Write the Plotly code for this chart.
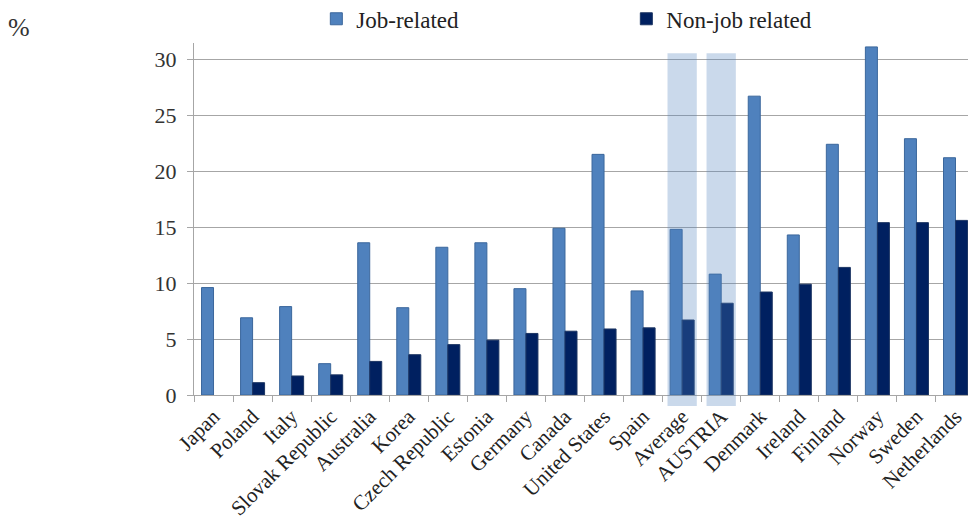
import plotly.graph_objects as go

countries = ["Japan", "Poland", "Italy", "Slovak Republic", "Australia", "Korea",
             "Czech Republic", "Estonia", "Germany", "Canada", "United States", "Spain",
             "Average", "AUSTRIA", "Denmark", "Ireland", "Finland", "Norway", "Sweden",
             "Netherlands"]
job_related = [9.6, 6.9, 7.9, 2.8, 13.6, 7.8, 13.2, 13.6, 9.5, 14.9, 21.5, 9.3,
               14.8, 10.8, 26.7, 14.3, 22.4, 31.1, 22.9, 21.2]
non_job_related = [None, 1.1, 1.7, 1.8, 3.0, 3.6, 4.5, 4.9, 5.5, 5.7, 5.9, 6.0,
                   6.7, 8.2, 9.2, 9.9, 11.4, 15.4, 15.4, 15.6]
highlighted = ["Average", "AUSTRIA"]
y_ticks = [0, 5, 10, 15, 20, 25, 30]

FONT = "Liberation Serif"

fig = go.Figure()
fig.add_trace(go.Bar(x=countries, y=job_related, name="Job-related",
                     marker=dict(color="#4f81bd", line=dict(color="#3b679c", width=1))))
fig.add_trace(go.Bar(x=countries, y=non_job_related, name="Non-job related",
                     marker=dict(color="#002060", line=dict(color="#1c3563", width=1))))

for c in highlighted:
    i = countries.index(c)
    fig.add_shape(type="rect", xref="x", yref="paper", x0=i - 0.375, x1=i + 0.375,
                  y0=-0.031, y1=0.971, layer="above", line=dict(width=0),
                  fillcolor="rgba(79,129,189,0.3)")

fig.add_annotation(text="%", xref="paper", yref="paper", x=-0.243, y=1.043,
                   xanchor="left", yanchor="middle", showarrow=False,
                   font=dict(family=FONT, size=26, color="#333333"))

fig.update_layout(
    width=968, height=523,
    margin=dict(l=194, r=0, t=43, b=128, autoexpand=False),
    paper_bgcolor="white", plot_bgcolor="white",
    barmode="group", bargap=0.385, bargroupgap=0,
    font=dict(family=FONT, size=22, color="#222222"),
    legend=dict(orientation="h", xref="container", yref="container",
                x=0.3268, y=0.964, xanchor="left", yanchor="middle",
                entrywidth=265, entrywidthmode="pixels",
                font=dict(family=FONT, size=23, color="#222222"), itemwidth=30),
    xaxis=dict(showgrid=False, showline=True, linecolor="#a6a6a6", linewidth=1,
               ticks="outside", tickson="boundaries", ticklen=6, tickcolor="#a6a6a6",
               tickangle=-45, tickfont=dict(family=FONT, size=21, color="#222222"),
               range=[-0.5, 19.32]),
    yaxis=dict(range=[0, 31.45], tickvals=y_ticks, showgrid=True, gridcolor="#a6a6a6",
               gridwidth=1, showline=True, linecolor="#a6a6a6", linewidth=1,
               ticks="outside", ticklen=6, tickcolor="#a6a6a6", zeroline=False,
               ticklabelstandoff=6,
               tickfont=dict(family=FONT, size=22, color="#333333")),
)

fig.write_html("out.html", config={"displayModeBar": False},
               post_script="document.body.style.margin='0';")
